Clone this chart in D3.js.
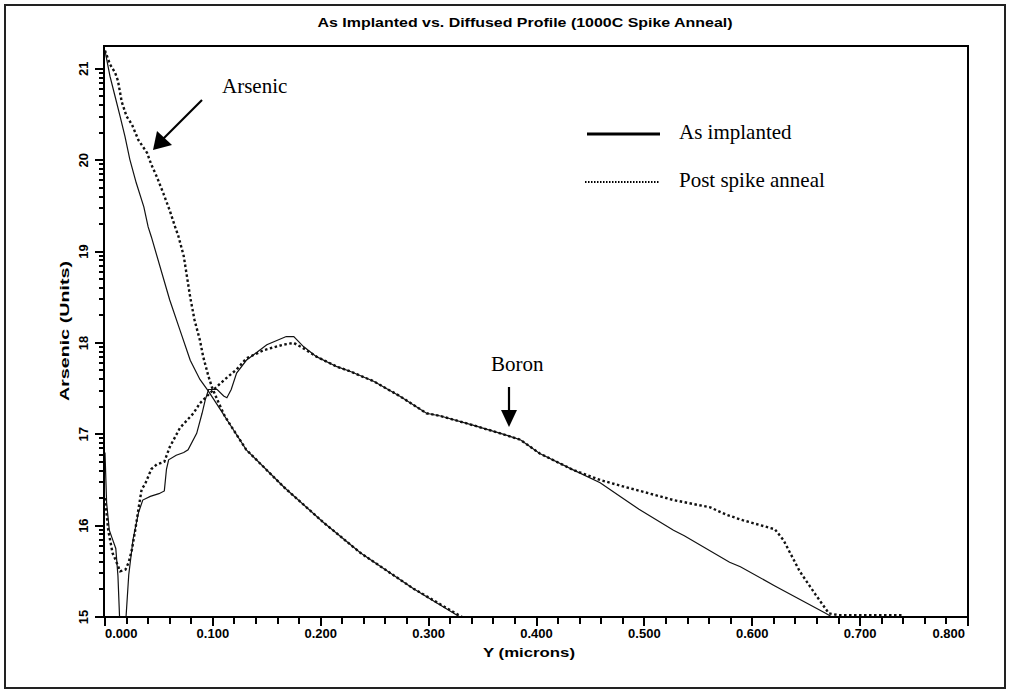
<!DOCTYPE html>
<html><head><meta charset="utf-8">
<script src="https://cdn.jsdelivr.net/npm/d3@7/dist/d3.min.js"></script>
<style>body{margin:0;background:#fff}</style>
</head><body><svg id="c" width="1012" height="694"></svg>
<script>
// ---- data (x in microns, y = log10 concentration) ----
const xMajorTicks = [0, 0.1, 0.2, 0.3, 0.4, 0.5, 0.6, 0.7, 0.8];
const xMinorTicks = [0.02,0.04,0.06,0.08,0.12,0.14,0.16,0.18,0.22,0.24,0.26,0.28,0.32,0.34,0.36,0.38,
  0.42,0.44,0.46,0.48,0.52,0.54,0.56,0.58,0.62,0.64,0.66,0.68,0.72,0.74,0.76,0.78];
const yMajorTicks = [15, 16, 17, 18, 19, 20, 21];
const yMinorFactors = [2, 3, 4, 5, 6, 7, 8, 9];
const legendLabels = ["As implanted", "Post spike anneal"];

const arsenicImplanted = [
  [0.000,21.20],[0.0046,20.92],[0.0093,20.70],[0.014,20.48],[0.0185,20.26],[0.023,20.01],
  [0.029,19.75],[0.036,19.49],[0.040,19.27],[0.043,19.16],[0.060,18.47],[0.0695,18.14],
  [0.079,17.81],[0.088,17.60],[0.096,17.47],[0.107,17.27],[0.119,17.05],[0.131,16.83],
  [0.166,16.42],[0.202,16.04],[0.237,15.70],[0.286,15.31],[0.329,15.00],[0.335,14.95]
];
const arsenicAnnealed = [
  [0.000,21.20],[0.0046,21.05],[0.0093,20.96],[0.012,20.87],[0.0155,20.64],[0.020,20.48],
  [0.025,20.39],[0.031,20.22],[0.039,20.08],[0.043,19.95],[0.048,19.82],[0.054,19.64],
  [0.060,19.45],[0.065,19.27],[0.068,19.17],[0.073,18.95],[0.079,18.50],[0.083,18.25],
  [0.088,18.03],[0.091,17.85],[0.096,17.63],[0.099,17.52],[0.104,17.38],[0.111,17.20],
  [0.119,17.05],[0.131,16.83],[0.166,16.42],[0.202,16.04],[0.237,15.70],[0.286,15.31],
  [0.331,15.00],[0.337,14.95]
];
const boronImplanted = [
  [0.000,16.80],[0.0015,16.25],[0.004,15.95],[0.007,15.85],[0.010,15.75],[0.012,15.45],
  [0.0135,15.00],[0.014,14.80],[0.019,14.80],[0.0195,15.00],[0.022,15.46],[0.026,15.85],
  [0.031,16.14],[0.035,16.28],[0.042,16.32],[0.050,16.35],[0.055,16.38],[0.057,16.62],
  [0.059,16.72],[0.066,16.77],[0.073,16.80],[0.077,16.83],[0.085,17.01],[0.090,17.23],
  [0.093,17.38],[0.096,17.49],[0.104,17.49],[0.110,17.42],[0.113,17.40],[0.117,17.49],
  [0.122,17.67],[0.131,17.81],[0.150,17.98],[0.168,18.07],[0.175,18.07],[0.184,17.96],
  [0.196,17.85],[0.215,17.74],[0.227,17.69],[0.249,17.58],[0.273,17.42],[0.298,17.23],
  [0.311,17.20],[0.341,17.10],[0.372,16.99],[0.385,16.94],[0.403,16.79],[0.434,16.61],
  [0.459,16.47],[0.480,16.30],[0.495,16.18],[0.527,15.95],[0.537,15.89],[0.579,15.60],
  [0.589,15.55],[0.621,15.34],[0.668,15.04],[0.674,15.00],[0.680,14.95]
];
const boronAnnealed = [
  [0.000,16.30],[0.003,15.95],[0.007,15.70],[0.010,15.62],[0.014,15.50],[0.019,15.52],
  [0.022,15.60],[0.025,15.74],[0.028,15.95],[0.031,16.18],[0.034,16.40],[0.037,16.45],
  [0.043,16.62],[0.048,16.67],[0.055,16.70],[0.060,16.86],[0.0695,17.07],[0.082,17.23],
  [0.088,17.34],[0.099,17.47],[0.111,17.60],[0.122,17.71],[0.131,17.83],[0.147,17.92],
  [0.165,17.98],[0.175,18.00],[0.184,17.94],[0.196,17.85],[0.215,17.74],[0.227,17.69],
  [0.249,17.58],[0.273,17.42],[0.298,17.23],[0.311,17.20],[0.341,17.10],[0.372,16.99],
  [0.385,16.94],[0.403,16.79],[0.434,16.61],[0.459,16.50],[0.480,16.43],[0.496,16.38],
  [0.527,16.28],[0.561,16.20],[0.576,16.12],[0.591,16.06],[0.621,15.96],[0.629,15.84],
  [0.644,15.50],[0.659,15.24],[0.671,15.04],[0.680,15.02],[0.740,15.02]
];

// ---- layout ----
const L = 104, R = 968, T = 46, B = 617;
const x = d3.scaleLinear().domain([0, 0.8]).range([105, R]);
const y = d3.scaleLinear().domain([15, 21.25]).range([B, T]);
const svg = d3.select("#c");
const ink = "#000";
const sans = "'Liberation Sans', Arial, sans-serif";
const serif = "'Liberation Serif', 'Times New Roman', serif";

// outer frame
svg.append("rect").attr("x", 5).attr("y", 5).attr("width", 1000).attr("height", 683)
  .attr("fill", "none").attr("stroke", "#222").attr("stroke-width", 2);

// title
svg.append("text").attr("x", 525).attr("y", 27).attr("text-anchor", "middle")
  .attr("font-family", sans).attr("font-weight", "bold").attr("font-size", 13)
  .attr("textLength", 415).attr("lengthAdjust", "spacingAndGlyphs").attr("fill", ink)
  .text("As Implanted vs. Diffused Profile (1000C Spike Anneal)");

// y axis minor tick values (log decades)
const yMinor = [];
yMajorTicks.forEach(d => yMinorFactors.forEach(k => { const v = d + Math.log10(k); if (v <= 21.25) yMinor.push(v); }));

// ticks drawn as filled rects via scales
const ticks = svg.append("g").attr("fill", ink).attr("shape-rendering", "crispEdges");
ticks.selectAll("rect.ymaj").data(yMajorTicks).join("rect").attr("class", "ymaj")
  .attr("x", L - 9).attr("width", 9).attr("y", d => Math.round(y(d)) - 1).attr("height", 2);
ticks.selectAll("rect.ymin").data(yMinor).join("rect").attr("class", "ymin")
  .attr("x", L - 5).attr("width", 5).attr("y", d => Math.round(y(d)) - 1).attr("height", 2);
ticks.selectAll("rect.xmaj").data(xMajorTicks).join("rect").attr("class", "xmaj")
  .attr("x", d => Math.round(x(d)) - 1).attr("width", 2).attr("y", B).attr("height", 9);
ticks.selectAll("rect.xmin").data(xMinorTicks).join("rect").attr("class", "xmin")
  .attr("x", d => Math.round(x(d)) - 1).attr("width", 2).attr("y", B).attr("height", 7);

// tick labels
const fmtY = d3.format("d"), fmtX = d3.format(".3f");
svg.append("g").selectAll("text").data(yMajorTicks).join("text")
  .attr("transform", d => `translate(${L - 21},${y(d)}) rotate(-90)`)
  .attr("dy", "0.35em").attr("text-anchor", "middle")
  .attr("font-family", sans).attr("font-weight", "bold").attr("font-size", 13).attr("fill", ink)
  .text(fmtY);
svg.append("g").selectAll("text").data(xMajorTicks).join("text")
  .attr("x", (d, i) => i === 0 ? x(d) : (i === xMajorTicks.length - 1 ? x(d) - 3 : x(d)))
  .attr("y", B + 21)
  .attr("text-anchor", (d, i) => i === 0 ? "start" : (i === xMajorTicks.length - 1 ? "end" : "middle"))
  .attr("font-family", sans).attr("font-weight", "bold").attr("font-size", 13).attr("fill", ink)
  .text(fmtX);

// axis titles
svg.append("text").attr("x", 529).attr("y", 657).attr("text-anchor", "middle")
  .attr("font-family", sans).attr("font-weight", "bold").attr("font-size", 13)
  .attr("textLength", 92).attr("lengthAdjust", "spacingAndGlyphs").attr("fill", ink).text("Y (microns)");
svg.append("text").attr("transform", "translate(69,331) rotate(-90)").attr("text-anchor", "middle")
  .attr("font-family", sans).attr("font-weight", "bold").attr("font-size", 13)
  .attr("textLength", 140).attr("lengthAdjust", "spacingAndGlyphs").attr("fill", ink).text("Arsenic (Units)");

// curves
svg.append("clipPath").attr("id", "clip").append("rect")
  .attr("x", L).attr("y", T).attr("width", R - L).attr("height", B - T);
const line = d3.line().x(d => x(d[0])).y(d => y(d[1]));
const plot = svg.append("g").attr("clip-path", "url(#clip)");
const solid = s => s.attr("fill", "none").attr("stroke", "#111").attr("stroke-width", 1.2);
const dotted = s => s.attr("fill", "none").attr("stroke", "#111").attr("stroke-width", 2.4).attr("stroke-dasharray", "2.5,2.5");
plot.append("path").datum(arsenicAnnealed).attr("d", line).call(dotted);
plot.append("path").datum(boronAnnealed).attr("d", line).call(dotted);
plot.append("path").datum(arsenicImplanted).attr("d", line).call(solid);
plot.append("path").datum(boronImplanted).attr("d", line).call(solid);

// plot box (drawn over curves)
svg.append("rect").attr("x", L).attr("y", T).attr("width", R - L).attr("height", B - T)
  .attr("fill", "none").attr("stroke", ink).attr("stroke-width", 2);

// legend
svg.append("line").attr("x1", 587).attr("x2", 660).attr("y1", 134).attr("y2", 134)
  .attr("stroke", ink).attr("stroke-width", 3);
svg.append("line").attr("x1", 585).attr("x2", 660).attr("y1", 182).attr("y2", 182)
  .attr("stroke", ink).attr("stroke-width", 1.8).attr("stroke-dasharray", "1.5,1.5");
legendLabels.forEach((t, i) => svg.append("text").attr("x", 679).attr("y", 139 + i * 48)
  .attr("font-family", serif).attr("font-size", 21).attr("fill", ink).text(t));

// annotations
svg.append("text").attr("x", 222).attr("y", 93).attr("font-family", serif).attr("font-size", 21)
  .attr("fill", ink).text("Arsenic");
svg.append("line").attr("x1", 202).attr("y1", 100).attr("x2", 162).attr("y2", 140)
  .attr("stroke", ink).attr("stroke-width", 2.2);
svg.append("path").attr("d", "M153,150 L157,131 L172,145 Z").attr("fill", ink);

svg.append("text").attr("x", 491).attr("y", 371).attr("font-family", serif).attr("font-size", 21)
  .attr("fill", ink).text("Boron");
svg.append("line").attr("x1", 509).attr("y1", 387).attr("x2", 509).attr("y2", 412)
  .attr("stroke", ink).attr("stroke-width", 2.2);
svg.append("path").attr("d", "M509,427 L501,410 L517,410 Z").attr("fill", ink);
</script></body></html>
